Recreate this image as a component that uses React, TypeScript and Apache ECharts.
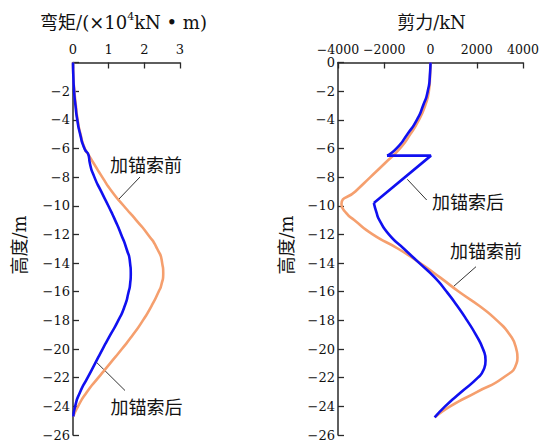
import React, { useEffect, useRef } from "react";
import * as echarts from "echarts";

// ---- Left panel: bending moment (×10^4 kN·m) vs height (m)
const momentDepths = [0, -1, -2, -3, -4, -5, -6, -6.5, -7, -8, -9, -10, -11, -12, -13, -14, -14.7, -15.5, -16, -17, -18, -19, -20, -21, -22, -23, -24, -24.7];
const momentBefore = [0, 0.01, 0.04, 0.08, 0.13, 0.21, 0.33, 0.45, 0.57, 0.82, 1.09, 1.42, 1.77, 2.1, 2.36, 2.5, 2.53, 2.48, 2.4, 2.2, 1.96, 1.68, 1.37, 1.04, 0.71, 0.39, 0.14, 0.01];
const momentAfter = [0, 0.01, 0.03, 0.07, 0.12, 0.2, 0.32, 0.44, 0.47, 0.6, 0.79, 0.99, 1.18, 1.35, 1.5, 1.6, 1.62, 1.6, 1.56, 1.45, 1.27, 1.05, 0.83, 0.62, 0.41, 0.2, 0.06, 0.01];

// ---- Right panel: shear force (kN) vs height (m)
const shearBeforeDepths = [0, -1, -2, -3, -4, -5, -6, -7, -8, -9, -9.9, -10.5, -11, -12, -13, -14, -15, -16, -17, -18, -19, -20, -20.6, -21, -22, -23, -24, -24.77];
const shearBefore = [0, -20, -70, -230, -500, -870, -1320, -1950, -2600, -3250, -3850, -3650, -3300, -2500, -1400, -450, 410, 1230, 2120, 2870, 3430, 3710, 3760, 3720, 3140, 2000, 850, 180];

const shearAfterUpperDepths = [0, -1, -2, -3, -4, -5, -6, -6.5];
const shearAfterUpper = [0, -30, -120, -320, -590, -1000, -1470, -1880];
const shearAfterJumpDepths = [-6.5, -6.5, -9.8];
const shearAfterJump = [-1880, 20, -2450];
const shearAfterLowerDepths = [-9.8, -10.5, -11, -12, -13, -14, -15, -16, -17, -18, -19, -20, -20.8, -21.5, -22, -23, -24, -24.77];
const shearAfterLower = [-2450, -2330, -2210, -1800, -1150, -480, 180, 700, 1160, 1580, 1960, 2270, 2380, 2280, 2050, 1330, 630, 180];

// ---- Axis settings
const momentTicks = { min: 0, max: 3, interval: 1 };
const shearTicks = { min: -4000, max: 4000, interval: 2000 };
const depthTicks = { min: -26, max: 0, interval: 2 };

const leftTitle = "弯矩/(×10";
const leftTitleSup = "4";
const leftTitleTail = "kN • m)";
const rightTitle = "剪力/kN";
const yName = "高度/m";
const labelBefore = "加锚索前";
const labelAfter = "加锚索后";

const ORANGE = "#f59f6e";
const BLUE = "#1010f0";
const AXIS = "#2a2a2a";
const TEXT = "#111";
const NUM_FONT = "DejaVu Serif, Liberation Serif, serif";
const CJK_FONT = "DejaVu Serif, Noto Sans CJK SC, sans-serif";

const pairs = (xs: number[], ys: number[]) => ys.map((y, i) => [xs[i], y]);
const minus = (v: number) => String(v).replace("-", "\u2212");

export default function App() {
  const ref = useRef<HTMLDivElement>(null);
  useEffect(() => {
    if (!ref.current) return;
    const chart = echarts.init(ref.current, undefined, { renderer: "svg" });

    const axisCommon = {
      axisLine: { show: true, onZero: false, lineStyle: { color: AXIS, width: 1.5 } },
      axisTick: { show: true, inside: true, length: 6, lineStyle: { color: AXIS, width: 1.3 } },
      splitLine: { show: false },
    };
    const numLabel = { color: TEXT, fontFamily: NUM_FONT, fontSize: 13, lineHeight: 13 };

    const lineSeries = (name: string, data: number[][], color: string, idx: number, smooth: number | boolean) => ({
      type: "line",
      name,
      data,
      xAxisIndex: idx,
      yAxisIndex: idx,
      showSymbol: false,
      symbol: "none",
      smooth,
      lineStyle: { color, width: 2.6 },
      itemStyle: { color },
      z: color === BLUE ? 3 : 2,
    });

    const cjkText = (text: string, x: number, y: number, extra: any = {}) => ({
      type: "text",
      x,
      y,
      style: { text, fill: TEXT, font: `18px ${CJK_FONT}`, align: "center", verticalAlign: "middle", ...extra },
    });
    const leader = (x1: number, y1: number, x2: number, y2: number) => ({
      type: "line",
      shape: { x1, y1, x2, y2 },
      style: { stroke: "#333", lineWidth: 1 },
    });

    chart.setOption({
      animation: false,
      backgroundColor: "#fff",
      grid: [
        { left: 73, top: 62.5, width: 107, height: 372.5, containLabel: false, outerBoundsMode: "none" },
        { left: 338, top: 62.5, width: 185, height: 372.5, containLabel: false, outerBoundsMode: "none" },
      ],
      xAxis: [
        {
          type: "value", gridIndex: 0, position: "top", ...momentTicks, ...axisCommon,
          axisLabel: { ...numLabel, margin: 7, formatter: (v: number) => minus(v) },
        },
        {
          type: "value", gridIndex: 1, position: "top", ...shearTicks, ...axisCommon,
          axisLabel: { ...numLabel, fontSize: 12.5, margin: 7, formatter: (v: number) => minus(v) },
        },
      ],
      yAxis: [
        {
          type: "value", gridIndex: 0, ...depthTicks, ...axisCommon,
          axisLabel: { ...numLabel, margin: 3, formatter: (v: number) => (v === 0 ? "" : minus(v)) },
        },
        {
          type: "value", gridIndex: 1, ...depthTicks, ...axisCommon,
          axisLabel: { ...numLabel, margin: 3, formatter: (v: number) => minus(v) },
        },
      ],
      series: [
        lineSeries("moment-before", pairs(momentBefore, momentDepths), ORANGE, 0, 0.7),
        lineSeries("moment-after", pairs(momentAfter, momentDepths), BLUE, 0, 0.7),
        lineSeries("shear-before", pairs(shearBefore, shearBeforeDepths), ORANGE, 1, 0.6),
        lineSeries("shear-after-upper", pairs(shearAfterUpper, shearAfterUpperDepths), BLUE, 1, 0.7),
        lineSeries("shear-after-jump", pairs(shearAfterJump, shearAfterJumpDepths), BLUE, 1, false),
        lineSeries("shear-after-lower", pairs(shearAfterLower, shearAfterLowerDepths), BLUE, 1, 0.6),
      ],
      graphic: [
        {
          type: "text",
          x: 123.5,
          y: 22,
          style: {
            text: `{a|${leftTitle}}{s|${leftTitleSup}}{a|${leftTitleTail}}`,
            align: "center",
            verticalAlign: "middle",
            rich: {
              a: { fontSize: 18, fontFamily: CJK_FONT, fill: TEXT, color: TEXT, lineHeight: 22 },
              s: { fontSize: 11, fontFamily: NUM_FONT, fill: TEXT, color: TEXT, verticalAlign: "top", lineHeight: 22, padding: [0, 0, 8, 0] },
            },
          },
        },
        cjkText(rightTitle, 431.5, 22),
        { ...cjkText(yName, 19, 245), rotation: Math.PI / 2 },
        { ...cjkText(yName, 286, 245), rotation: Math.PI / 2 },
        cjkText(labelBefore, 146, 165),
        leader(140, 177, 118, 200),
        cjkText(labelAfter, 146.5, 407),
        leader(125, 390.5, 96.7, 362.5),
        cjkText(labelAfter, 468, 202.7),
        leader(426.7, 200, 407.3, 179.3),
        cjkText(labelBefore, 486, 251.7),
        leader(476, 266.7, 453.3, 286.7),
      ],
    });
    return () => chart.dispose();
  }, []);
  return <div ref={ref} style={{ position: "absolute", left: 0, top: 0, width: 542, height: 444 }} />;
}
